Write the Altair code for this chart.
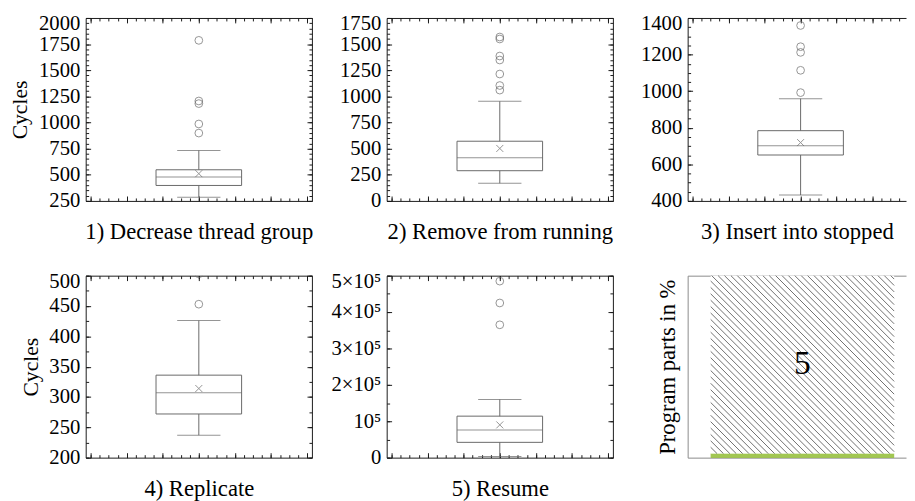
import altair as alt
import pandas as pd

# ---------------- data ----------------
panels = ["1) Decrease thread group", "2) Remove from running", "3) Insert into stopped",
          "4) Replicate", "5) Resume"]
lower_whisker = [285, 169, 432, 237, 3000]
q1 = [398, 289, 651, 272, 42000]
median = [479, 414, 701, 307, 76000]
q3 = [548, 571, 784, 336, 114000]
upper_whisker = [733, 953, 959, 426, 160000]
mean = [511, 502, 719, 314, 90000]
outliers = [
    [1786, 1206, 1181, 986, 899],
    [1568, 1549, 1386, 1348, 1214, 1104, 1060],
    [1359, 1243, 1212, 1114, 992],
    [503, 453],
    [485000, 425000, 365000],
]
y_domains = [[250, 2000], [0, 1750], [400, 1400], [200, 500], [0, 500000]]
y_major = [list(range(250, 2001, 250)), list(range(0, 1751, 250)), list(range(400, 1401, 200)),
           list(range(200, 501, 50)), list(range(0, 500001, 100000))]
y_minor = [list(range(250, 2001, 50)), list(range(0, 1751, 50)), list(range(400, 1401, 50)),
           list(range(200, 501, 25)), list(range(0, 500001, 50000))]
x_major = [-3, -2, -1, 0, 1, 2, 3]
x_minor = [-3 + 0.25 * k for k in range(25)]

part_names = ["1", "2", "3", "4", "5"]
part_share = [0.55, 0.54, 0.78, 0.34, 97.79]

# ---------------- style ----------------
FONT = "Liberation Serif"
FS = 21
TFS = 23
INK = "#1a1a1a"
BOX = "#686868"
FRAME6 = "#8a8a8a"
GREEN = "#8cba2a"
HATCH = "#4a4a4a"
PW, PH1, PH2 = 230, 186, 185
W3 = 222
UNIT = PW / 6.0
BOXW, CAPW = 87, 44
MAJ, MIN = 5, 3
XPATH = "M-1,-1L1,1M-1,1L1,-1"

stats_df = pd.DataFrame({"panel": panels, "lw": lower_whisker, "q1": q1, "median": median,
                         "q3": q3, "uw": upper_whisker, "mean": mean})
out_df = pd.DataFrame([{"panel": p, "value": v} for p, vals in zip(panels, outliers) for v in vals])
parts_df = pd.DataFrame({"part": part_names, "share": part_share})


def tick_axis(orient, values, size, **kw):
    opts = dict(orient=orient, values=values, tickSize=size, offset=-size, domain=False,
                labels=False, title=None, grid=False, ticks=True, tickColor=INK, tickWidth=1)
    opts.update(kw)
    return alt.Axis(**opts)


def frame_axis(orient, color=INK):
    return alt.Axis(orient=orient, domain=True, domainColor=color, domainWidth=1, ticks=False,
                    labels=False, title=None, grid=False, offset=0)


def box_panel(i, w, h, cut=False):
    name = panels[i]
    lo, hi = y_domains[i]
    ys = alt.Scale(domain=[lo, hi], nice=False, zero=False)
    xs = alt.Scale(domain=[-3, -3 + w / UNIT], nice=False, zero=False)
    stats = alt.Chart(stats_df).transform_filter(alt.datum.panel == name).transform_calculate(pos="0")

    def X(axis):
        return alt.X("pos:Q", scale=xs, axis=axis)

    lab_kw = dict(labels=True, labelPadding=6, labelFlush=False, labelOverlap=False, format="d",
                  labelBaseline="middle",
                  labelOffset={"condition": {"test": f"datum.value == {hi}", "value": 6}, "value": 0})
    if i == 4:
        lab_kw["labelExpr"] = ("datum.value == 0 ? '0' : datum.value == 100000 ? '10⁵' : "
                               "format(datum.value / 100000, 'd') + '×10⁵'")
    if i in (0, 3):
        lab_kw["title"] = "Cycles"
        lab_kw["titlePadding"] = 7
        lab_kw["titleFontSize"] = 22
    left_major = tick_axis("left", y_major[i], MAJ, **lab_kw)
    bottom_major = tick_axis("bottom", x_major, MAJ, title=name, titlePadding=20, titleFontSize=TFS)

    whisk = stats.mark_rule(color=BOX, strokeWidth=1).encode(
        x=X(bottom_major), y=alt.Y("lw:Q", scale=ys, axis=left_major), y2="uw:Q")
    box = stats.mark_bar(size=BOXW, fill="white", stroke=BOX, strokeWidth=1).encode(
        x=X(tick_axis("bottom", x_minor, MIN)),
        y=alt.Y("q1:Q", scale=ys, axis=tick_axis("left", y_minor[i], MIN)), y2="q3:Q")
    med = stats.mark_tick(orient="horizontal", size=BOXW, thickness=1, color=BOX).encode(
        x=X(tick_axis("top", x_major, MAJ)),
        y=alt.Y("median:Q", scale=ys, axis=None if cut else tick_axis("right", y_major[i], MAJ)))
    caps = stats.transform_fold(["lw", "uw"], as_=["which", "val"]).mark_tick(
        orient="horizontal", size=CAPW, thickness=1, color=BOX).encode(
        x=X(tick_axis("top", x_minor, MIN)),
        y=alt.Y("val:Q", scale=ys, axis=None if cut else tick_axis("right", y_minor[i], MIN)))
    mn = stats.mark_point(shape=XPATH, size=50, color=BOX, strokeWidth=1, filled=False).encode(
        x=X(frame_axis("bottom") if cut else None),
        y=alt.Y("mean:Q", scale=ys, axis=frame_axis("left") if cut else None))
    outl = alt.Chart(out_df).transform_filter(alt.datum.panel == name).transform_calculate(pos="0").mark_point(
        shape="circle", size=62, filled=False, color=BOX, strokeWidth=1, clip=True).encode(
        x=X(frame_axis("top") if cut else None),
        y=alt.Y("value:Q", scale=ys, axis=None))
    layer = alt.layer(whisk, box, med, caps, mn, outl).resolve_axis(x="independent", y="independent")
    props = dict(width=w, height=h)
    if cut:
        props["view"] = alt.ViewBackground(stroke="transparent")
    return layer.properties(**props)


def parts_panel(w, h):
    po, align = 0.095, 0.66
    step = w / (1 + 2 * po)
    bar_left = (w - step) * align
    small = sum(part_share[:-1])
    hh = h * (1 - small / 100.0)
    band = alt.Scale(type="band", domain=["all"], paddingInner=0, paddingOuter=po, align=align, round=False)
    ys = alt.Scale(domain=[0, 100], nice=False, zero=False)
    base = alt.Chart(parts_df).transform_calculate(grp="'all'")
    bars = base.mark_bar(strokeWidth=0).encode(
        x=alt.X("grp:N", scale=band, axis=frame_axis("bottom", FRAME6)),
        y=alt.Y("share:Q", stack="zero", scale=ys,
                axis=alt.Axis(orient="left", domain=True, domainColor=FRAME6, domainWidth=1, ticks=False,
                              labels=False, grid=False, title="Program parts in %", titlePadding=8,
                              titleFontSize=TFS)),
        color=alt.Color("part:N", scale=alt.Scale(domain=part_names,
                                                  range=[GREEN, GREEN, GREEN, GREEN, "white"]), legend=None),
        order=alt.Order("part:N", sort="ascending"))
    hatch = alt.Chart(alt.sequence(-hh, step, 6.5, as_="c")).transform_calculate(
        x1="max(0, datum.c)", x2=f"min({step}, {hh} + datum.c)").transform_calculate(
        y1="datum.x1 - datum.c", y2="datum.x2 - datum.c").transform_filter(
        "datum.x2 > datum.x1").mark_rule(color=HATCH, strokeWidth=0.8).encode(
        x=alt.X("x1:Q", scale=alt.Scale(domain=[-bar_left, w - bar_left], nice=False, zero=False),
                axis=frame_axis("top", FRAME6)),
        x2="x2:Q",
        y=alt.Y("y1:Q", scale=alt.Scale(domain=[h, 0], nice=False, zero=False), axis=None),
        y2="y2:Q")
    label = base.transform_stack(stack="share", groupby=["grp"], as_=["s0", "s1"],
                                 sort=[alt.SortField("part", order="ascending")]).transform_calculate(
        mid="(datum.s0 + datum.s1) / 2").transform_filter("datum.share > 50").mark_text(
        font=FONT, fontSize=34, color="black").encode(
        x=alt.X("grp:N", scale=band, axis=None), y=alt.Y("mid:Q", scale=ys, axis=None), text="part:N")
    return alt.layer(bars, hatch, label).resolve_scale(x="independent", y="independent").properties(
        width=w, height=h, view=alt.ViewBackground(stroke="transparent"))


p1 = box_panel(0, PW, PH1)
p2 = box_panel(1, PW, PH1)
p3 = box_panel(2, W3, PH1, cut=True)
p4 = box_panel(3, PW, PH2)
p5 = box_panel(4, PW, PH2)
p6 = parts_panel(W3, PH2)

chart = alt.concat(p1, p2, p3, p4, p5, p6, columns=3, spacing=76, bounds="flush", align="each").properties(
    padding={"left": 0, "top": 0, "right": 0, "bottom": 0}
).configure_view(stroke=INK, strokeWidth=1).configure_axis(
    labelFont=FONT, labelFontSize=FS, labelColor="black", titleFont=FONT, titleFontSize=FS,
    titleFontWeight="normal", titleColor="black", grid=False
).configure_text(font=FONT)

chart.save("out.html", embed_options={"renderer": "svg", "actions": False})
